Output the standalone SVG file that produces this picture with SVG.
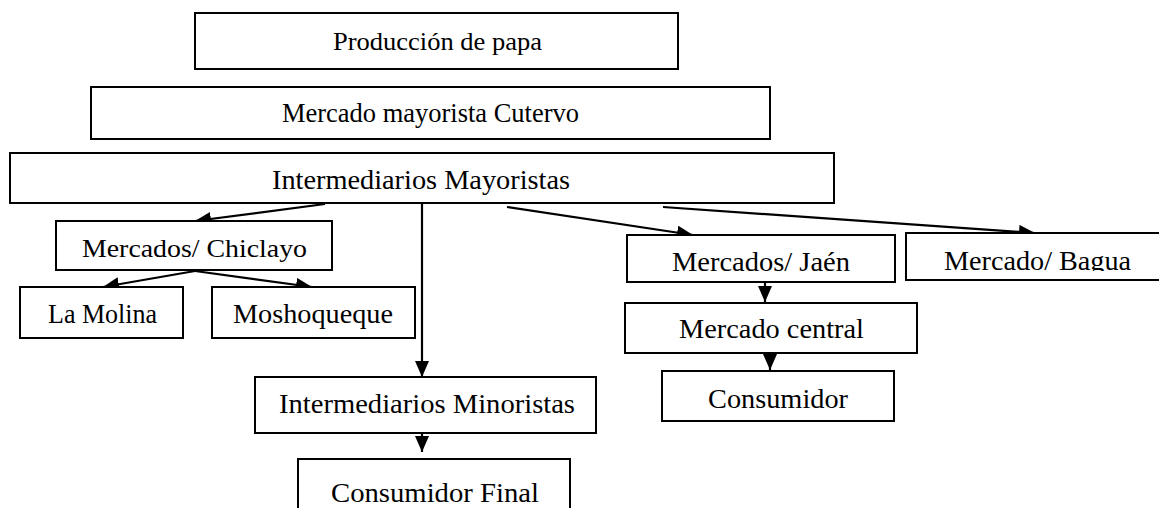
<svg xmlns="http://www.w3.org/2000/svg" width="1159" height="508" viewBox="0 0 1159 508">
<style>
.box{fill:#fff;stroke:#000;stroke-width:2}
.t{font-family:"Liberation Serif","Times New Roman",serif;fill:#000}
.c{stroke:#000;stroke-width:2.2;fill:none;marker-end:url(#ah)}
</style>
<defs>
<marker id="ah" markerUnits="userSpaceOnUse" markerWidth="17" markerHeight="15" refX="16" refY="7" orient="auto">
<path d="M0,0 L16,7 L0,14 z" fill="#000"/>
</marker>
<clipPath id="cj" clipPathUnits="userSpaceOnUse"><rect x="600" y="230" width="300" height="42"/></clipPath>
<clipPath id="cb" clipPathUnits="userSpaceOnUse"><rect x="900" y="230" width="259" height="41"/></clipPath>
</defs>
<rect width="1159" height="508" fill="#fff"/>
<g id="connectors">
<line class="c" x1="325" y1="204" x2="195" y2="221"/>
<line class="c" x1="195" y1="271" x2="103" y2="287"/>
<line class="c" x1="195" y1="271" x2="312" y2="287"/>
<line class="c" x1="422" y1="204" x2="422" y2="377"/>
<line class="c" x1="422" y1="433" x2="422" y2="452"/>
<line class="c" x1="507" y1="207" x2="693" y2="235"/>
<line class="c" x1="663" y1="207" x2="1035" y2="233"/>
<line class="c" x1="765" y1="283" x2="765" y2="302"/>
<line class="c" x1="770" y1="353" x2="770" y2="370"/>
</g>
<g id="n1"><rect class="box" x="195" y="13" width="483" height="56"/>
<text class="t" x="333" y="50" font-size="26" textLength="209" lengthAdjust="spacingAndGlyphs">Producción de papa</text></g>
<g id="n2"><rect class="box" x="91" y="87" width="679" height="52"/>
<text class="t" x="282" y="122" font-size="28" textLength="297" lengthAdjust="spacingAndGlyphs">Mercado mayorista Cutervo</text></g>
<g id="n3"><rect class="box" x="10" y="153" width="824" height="50"/>
<text class="t" x="272" y="189" font-size="27" textLength="298" lengthAdjust="spacingAndGlyphs">Intermediarios Mayoristas</text></g>
<g id="n4"><rect class="box" x="56" y="221" width="276" height="49"/>
<text class="t" x="82" y="257" font-size="26" textLength="225" lengthAdjust="spacingAndGlyphs">Mercados/ Chiclayo</text></g>
<g id="n5"><rect class="box" x="20" y="287" width="163" height="51"/>
<text class="t" x="48" y="323" font-size="27" textLength="109" lengthAdjust="spacingAndGlyphs">La Molina</text></g>
<g id="n6"><rect class="box" x="212" y="287" width="203" height="51"/>
<text class="t" x="233" y="323" font-size="27" textLength="160" lengthAdjust="spacingAndGlyphs">Moshoqueque</text></g>
<g id="n7"><rect class="box" x="627" y="235" width="268" height="47"/>
<text class="t" x="672" y="271" font-size="27" textLength="178" lengthAdjust="spacingAndGlyphs" clip-path="url(#cj)">Mercados/ Jaén</text></g>
<g id="n8"><rect class="box" x="906" y="233" width="270" height="47"/>
<text class="t" x="944" y="270" font-size="27" textLength="187" lengthAdjust="spacingAndGlyphs" clip-path="url(#cb)">Mercado/ Bagua</text></g>
<g id="n9"><rect class="box" x="625" y="303" width="292" height="50"/>
<text class="t" x="679" y="338" font-size="27" textLength="185" lengthAdjust="spacingAndGlyphs">Mercado central</text></g>
<g id="n10"><rect class="box" x="662" y="371" width="232" height="50"/>
<text class="t" x="708" y="408" font-size="28" textLength="140" lengthAdjust="spacingAndGlyphs">Consumidor</text></g>
<g id="n11"><rect class="box" x="255" y="377" width="341" height="56"/>
<text class="t" x="279" y="413" font-size="28" textLength="296" lengthAdjust="spacingAndGlyphs">Intermediarios Minoristas</text></g>
<g id="n12"><rect class="box" x="298" y="459" width="272" height="60"/>
<text class="t" x="331" y="502" font-size="28" textLength="208" lengthAdjust="spacingAndGlyphs">Consumidor Final</text></g>
</svg>
